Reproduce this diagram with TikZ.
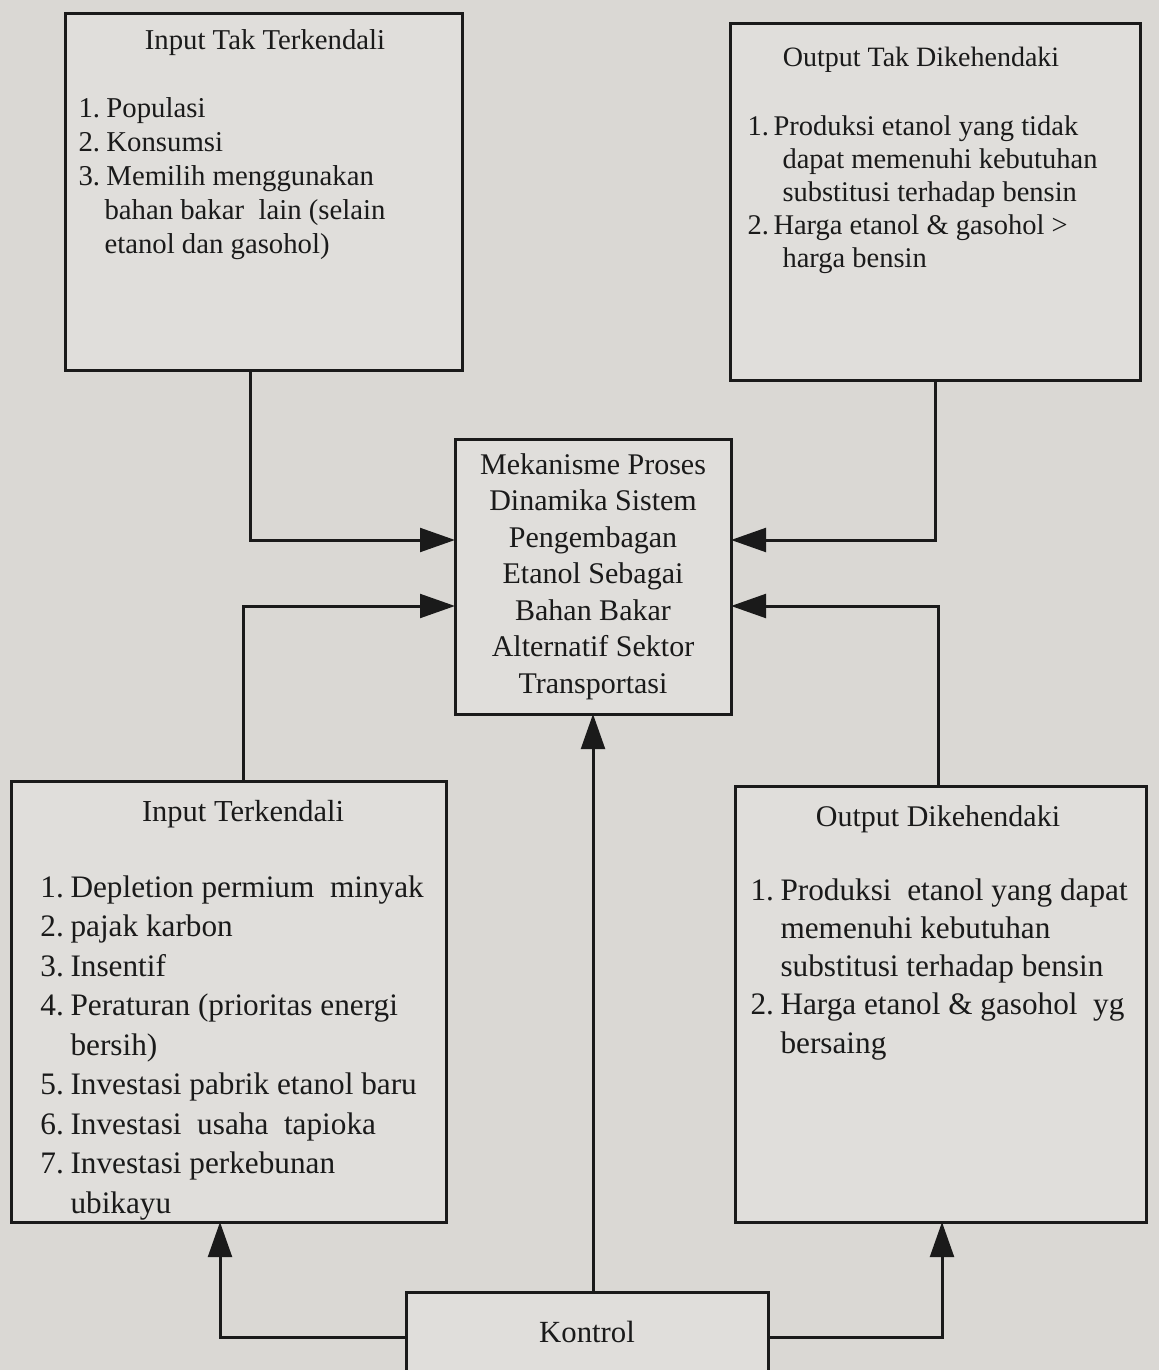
\documentclass[tikz,border=0pt]{standalone}
\usepackage{fontspec}
\setmainfont{Liberation Serif}
\usetikzlibrary{arrows.meta}
\definecolor{paper}{RGB}{218,216,212}
\definecolor{boxfill}{RGB}{224,222,219}
\definecolor{ink}{RGB}{26,26,26}
\tikzset{
  blk/.style={draw=ink, line width=1.2pt, fill=boxfill, inner sep=0pt, outer sep=0pt},
  head/.style={text=ink, inner sep=0pt},
  lst/.style={text=ink, inner sep=0pt, align=left, anchor=north west},
  arr/.style={draw=ink, line width=1.2pt, -{Triangle[length=14pt,width=9.5pt]}},
}
\newcommand{\nm}[2]{\makebox[#1][l]{#2}}
\begin{document}
\begin{tikzpicture}[x=0.4pt,y=-0.4pt]
\fill[paper] (0,0) rectangle (1159,1370);
\useasboundingbox (0,0) rectangle (1159,1370);

% boxes
\node[blk, minimum width=158.4pt, minimum height=142.4pt] (itt) at (264,192) {};
\node[blk, minimum width=164pt, minimum height=142.4pt] (otd) at (935,202) {};
\node[blk, minimum width=110.4pt, minimum height=109.6pt] (ctr) at (593,577) {};
\node[blk, minimum width=173.6pt, minimum height=176.4pt] (it) at (229,1001.5) {};
\node[blk, minimum width=164.4pt, minimum height=174.4pt] (od) at (940.5,1004) {};
\node[blk, minimum width=144.8pt, minimum height=32pt, text=ink,
      font=\fontsize{12.3pt}{14pt}\selectfont] (kon) at (587,1332) {Kontrol};

% texts
\node[head, font=\fontsize{11.5pt}{13.6pt}\selectfont] (ittH) at (265,43) {Input Tak Terkendali};
\node[lst, font=\fontsize{11.5pt}{13.6pt}\selectfont] (ittL) at (78,97)
  {\nm{11.2pt}{1.}Populasi\\
   \nm{11.2pt}{2.}Konsumsi\\
   \nm{11.2pt}{3.}Memilih menggunakan\\
   \hspace*{10.4pt}bahan bakar\ \ lain (selain\\
   \hspace*{10.4pt}etanol dan gasohol)};

\node[head, font=\fontsize{11.2pt}{13.2pt}\selectfont] (otdH) at (921,60) {Output Tak Dikehendaki};
\node[lst, font=\fontsize{11.4pt}{13.2pt}\selectfont] (otdL) at (747,115)
  {\nm{10.4pt}{1.}Produksi etanol yang tidak\\
   \hspace*{14pt}dapat memenuhi kebutuhan\\
   \hspace*{14pt}substitusi terhadap bensin\\
   \nm{10.4pt}{2.}Harga etanol \& gasohol >\\
   \hspace*{14pt}harga bensin};

\node[text=ink, inner sep=0pt, align=center, anchor=north,
      font=\fontsize{12pt}{14.6pt}\selectfont] (ctrT) at (593,453)
  {Mekanisme Proses\\ Dinamika Sistem\\ Pengembagan\\ Etanol Sebagai\\
   Bahan Bakar\\ Alternatif Sektor\\ Transportasi};

\node[head, font=\fontsize{12.2pt}{14pt}\selectfont] (itH) at (243,814) {Input Terkendali};
\node[lst, font=\fontsize{12.5pt}{15.8pt}\selectfont] (itL) at (40,875)
  {\nm{12pt}{1.}Depletion permium\ \ minyak\\
   \nm{12pt}{2.}pajak karbon\\
   \nm{12pt}{3.}Insentif\\
   \nm{12pt}{4.}Peraturan (prioritas energi\\
   \hspace*{12pt}bersih)\\
   \nm{12pt}{5.}Investasi pabrik etanol baru\\
   \nm{12pt}{6.}Investasi\ \ usaha\ \ tapioka\\
   \nm{12pt}{7.}Investasi perkebunan\\
   \hspace*{12pt}ubikayu};

\node[head, font=\fontsize{12pt}{14pt}\selectfont] (odH) at (938,819) {Output Dikehendaki};
\node[lst, font=\fontsize{12.5pt}{15.3pt}\selectfont] (odL) at (750,878)
  {\nm{12pt}{1.}Produksi\ \ etanol yang dapat\\
   \hspace*{12pt}memenuhi kebutuhan\\
   \hspace*{12pt}substitusi terhadap bensin\\
   \nm{12pt}{2.}Harga etanol \& gasohol\ \ yg\\
   \hspace*{12pt}bersaing};

% connectors
\draw[arr] ([xshift=-5.6pt]itt.south) |- ([yshift=14.8pt]ctr.west);
\draw[arr] (otd.south) |- ([yshift=14.8pt]ctr.east);
\draw[arr] ([xshift=5.6pt]it.north) |- ([yshift=-11.6pt]ctr.west);
\draw[arr] ([xshift=-1pt]od.north) |- ([yshift=-11.6pt]ctr.east);
\draw[arr] (ctr.south |- kon.north) -- (ctr.south);
\draw[arr] ([yshift=-2pt]kon.west) -| ([xshift=-3.6pt]it.south);
\draw[arr] ([yshift=-2pt]kon.east) -| ([xshift=0.6pt]od.south);
\end{tikzpicture}
\end{document}
